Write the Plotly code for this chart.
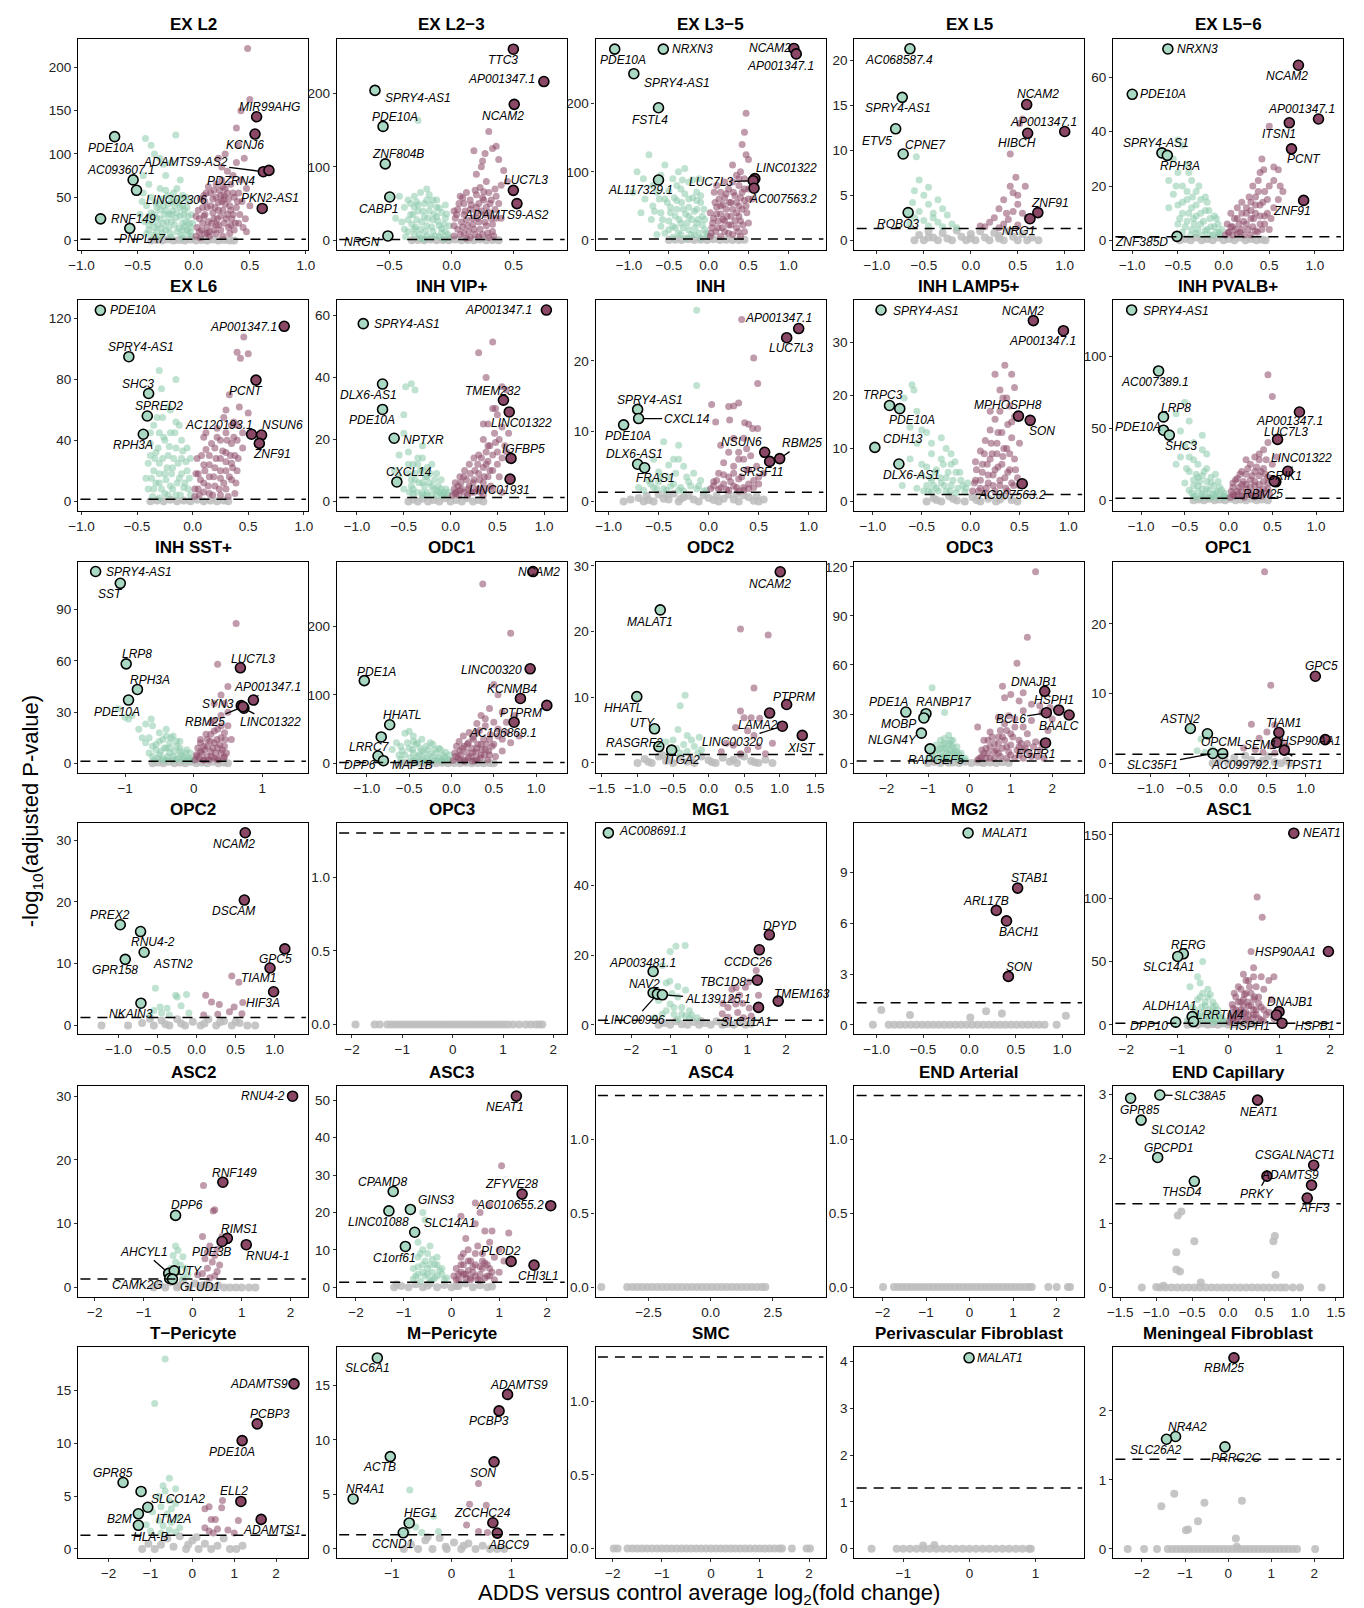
import plotly.graph_objects as go

# ---------------------------------------------------------------- data ----
# each cloud list holds (log2FC, -log10 padj) pairs
EXL2_DOWN = [(-0.43,118),(-0.38,110),(-0.16,122),(-0.35,100),(-0.27,88),(-0.3,95),(-0.2,90),(-0.45,75),(-0.25,75),(-0.12,70),(-0.4,65),(-0.5,60),(-0.3,60),(-0.15,60),(-0.18,55),(-0.45,55),(-0.38,50),(-0.28,48),(-0.2,45),(-0.12,48),(-0.42,40),(-0.33,38),(-0.1,40),(-0.08,35),(-0.25,35),(-0.15,32),(-0.48,30),(-0.22,30),(-0.05,28),(-0.4,28),(-0.3,25),(-0.2,22),(-0.1,20),(-0.32,18),(-0.35,15),(-0.03,15),(-0.25,12),(-0.15,10),(-0.05,8),(-0.42,8),(-0.3,5),(-0.2,4),(-0.1,3),(-0.02,5),(-0.37,22),(-0.27,40),(-0.17,40),(-0.07,22),(-0.12,28),(-0.35,30),(-0.22,15),(-0.28,8),(-0.4,18),(-0.05,45),(-0.1,12),
             (-0.4,12),(-0.36,6),(-0.33,26),(-0.31,42),(-0.29,14),(-0.26,30),(-0.24,22),(-0.23,52),(-0.21,8),(-0.19,34),(-0.17,18),(-0.16,26),(-0.14,44),(-0.13,14),(-0.11,6),(-0.09,30),(-0.08,16),(-0.06,38),(-0.04,20),(-0.03,10),(-0.02,30),(-0.07,50),(-0.25,58),(-0.34,44),(-0.44,22),(-0.46,45),(-0.38,32),(-0.3,35),(-0.2,30),(-0.12,38),(-0.01,20),(-0.27,20),(-0.33,10),(-0.23,42),(-0.18,48),(-0.1,52),(-0.06,12)]
EXL2_UP = [(0.02,5),(0.05,10),(0.08,20),(0.1,30),(0.12,15),(0.15,40),(0.18,25),(0.2,50),(0.22,35),(0.25,45),(0.27,20),(0.3,55),(0.28,60),(0.32,40),(0.35,30),(0.33,65),(0.25,70),(0.3,80),(0.35,75),(0.38,90),(0.22,95),(0.28,100),(0.4,110),(0.42,150),(0.5,163),(0.48,222),(0.45,95),(0.47,60),(0.5,40),(0.47,10),(0.4,20),(0.43,45),(0.06,3),(0.12,8),(0.18,12),(0.15,55),(0.2,65),(0.1,45),(0.38,130),(0.25,85),(0.36,50),(0.42,70),(0.05,25),(0.08,38),(0.13,22),(0.17,32),(0.22,18),(0.24,28),(0.28,42),(0.3,30),(0.33,18),(0.36,12),(0.2,8),(0.26,5),(0.32,8),(0.14,5),(0.38,38),(0.4,55),(0.27,52),
           (0.03,15),(0.04,35),(0.06,48),(0.07,12),(0.09,28),(0.11,55),(0.12,38),(0.14,10),(0.16,20),(0.17,48),(0.19,38),(0.21,25),(0.23,58),(0.24,12),(0.26,35),(0.27,48),(0.29,25),(0.31,15),(0.31,48),(0.34,25),(0.35,55),(0.37,20),(0.39,45),(0.41,30),(0.44,15),(0.46,25),(0.02,28),(0.09,52),(0.13,62),(0.18,58),(0.22,44),(0.26,62),(0.33,35),(0.2,18),(0.1,8),(0.24,52)]
EXL2_NS = [(-0.38,0),(-0.33,0.5),(-0.28,0),(-0.23,1),(-0.18,0),(-0.13,0.5),(-0.08,0),(-0.03,1),(0.02,0),(0.07,0.5),(0.12,0),(0.17,1),(0.22,0),(0.27,0.5),(0.32,0),(0.36,0)]
EXL2_GENES = [("PDE10A",-0.705,120),("AC093607.1",-0.54,70),("LINC02306",-0.51,58),("RNF149",-0.83,25),("PNPLA7",-0.57,14),("MIR99AHG",0.56,143),("KCNJ6",0.546,123),("ADAMTS9-AS2",0.62,79.5),("PDZRN4",0.67,81),("PKN2-AS1",0.61,37)]

EXL23_DOWN = [(-0.27,163),(-0.2,70),(-0.3,60),(-0.25,65),(-0.35,55),(-0.15,55),(-0.22,50),(-0.38,45),(-0.3,45),(-0.12,45),(-0.27,40),(-0.18,40),(-0.08,38),(-0.33,35),(-0.22,32),(-0.05,30),(-0.28,28),(-0.15,28),(-0.4,25),(-0.32,22),(-0.2,20),(-0.1,20),(-0.25,15),(-0.35,12),(-0.15,12),(-0.05,12),(-0.3,8),(-0.2,6),(-0.1,5),(-0.02,4),(-0.25,3),(-0.42,60),(-0.45,30),(-0.38,15),(-0.12,32),(-0.05,48),(-0.18,62),(-0.28,52),(-0.08,10),(-0.16,4),
              (-0.31,35),(-0.29,18),(-0.27,48),(-0.26,8),(-0.24,25),(-0.23,40),(-0.21,12),(-0.19,30),(-0.17,48),(-0.16,18),(-0.14,36),(-0.13,6),(-0.11,26),(-0.1,44),(-0.08,16),(-0.06,22),(-0.04,36),(-0.03,8),(-0.02,20),(-0.35,28),(-0.33,50),(-0.37,5),(-0.2,55),(-0.12,55),(-0.06,2),(-0.22,2),(-0.3,15)]
EXL23_UP = [(0.3,148),(0.36,128),(0.33,125),(0.18,122),(0.27,118),(0.38,110),(0.24,100),(0.45,80),(0.28,80),(0.4,75),(0.35,70),(0.23,72),(0.3,65),(0.2,62),(0.25,58),(0.15,55),(0.32,55),(0.1,50),(0.22,50),(0.28,45),(0.05,42),(0.15,42),(0.35,42),(0.2,38),(0.1,35),(0.27,35),(0.03,30),(0.17,30),(0.32,30),(0.08,25),(0.22,25),(0.13,20),(0.28,20),(0.05,15),(0.18,15),(0.33,12),(0.1,10),(0.25,8),(0.02,6),(0.15,4),(0.3,4),(0.38,50),(0.42,95),(0.2,90),(0.12,65),(0.07,60),(0.4,30),(0.25,108),(0.36,60),
            (0.02,20),(0.04,35),(0.06,50),(0.07,8),(0.09,18),(0.11,40),(0.12,28),(0.14,12),(0.16,48),(0.17,22),(0.19,8),(0.2,45),(0.21,30),(0.23,15),(0.24,40),(0.26,55),(0.27,25),(0.29,10),(0.3,38),(0.31,50),(0.33,22),(0.34,6),(0.36,30),(0.02,40),(0.09,58),(0.19,68),(0.26,66),(0.12,3),(0.22,5)]
EXL23_NS = [(-0.32,0),(-0.27,0.5),(-0.22,0),(-0.17,1),(-0.12,0),(-0.07,0.5),(-0.02,0),(0.03,1),(0.08,0),(0.13,0.5),(0.18,0),(0.23,1),(0.28,0),(0.33,0.5),(0.38,0)]
EXL23_GENES = [("TTC3",0.498,260),("AP001347.1",0.744,216),("NCAM2",0.505,185),("LUC7L3",0.498,68),("ADAMTS9-AS2",0.527,50),("SPRY4-AS1",-0.617,204),("PDE10A",-0.552,155),("ZNF804B",-0.534,104),("CABP1",-0.498,59),("NRGN",-0.513,6)]

EXL35_DOWN = [(-0.55,110),(-0.75,125),(-0.9,100),(-0.3,105),(-0.7,80),(-0.82,90),(-0.6,95),(-0.45,90),(-0.2,88),(-0.65,70),(-0.5,72),(-0.35,75),(-0.15,70),(-0.8,60),(-0.55,60),(-0.4,58),(-0.25,60),(-0.1,55),(-0.7,50),(-0.48,48),(-0.32,45),(-0.18,42),(-0.6,40),(-0.42,35),(-0.25,35),(-0.08,35),(-0.72,30),(-0.5,28),(-0.35,25),(-0.15,25),(-0.6,20),(-0.42,18),(-0.25,15),(-0.05,15),(-0.55,10),(-0.35,8),(-0.18,8),(-0.45,4),(-0.28,3),(-0.1,3),(-0.65,8),(-0.02,6),(-0.85,40),(-0.95,70),(-0.38,100),(-0.12,90),
              (-0.48,40),(-0.45,20),(-0.43,62),(-0.4,45),(-0.38,10),(-0.37,30),(-0.34,55),(-0.32,18),(-0.3,68),(-0.29,38),(-0.27,25),(-0.25,48),(-0.22,8),(-0.21,30),(-0.2,62),(-0.17,18),(-0.15,45),(-0.13,30),(-0.12,10),(-0.1,65),(-0.08,22),(-0.06,45),(-0.05,30),(-0.03,10),(-0.52,55),(-0.58,30),(-0.62,60),(-0.5,15),(-0.68,42),(-0.4,80),(-0.25,85),(-0.15,58),(-0.33,88)]
EXL35_UP = [(0.47,186),(0.45,158),(0.47,125),(0.5,118),(0.42,140),(0.4,100),(0.35,95),(0.45,90),(0.3,85),(0.38,80),(0.5,75),(0.25,75),(0.42,70),(0.33,65),(0.2,62),(0.45,58),(0.28,55),(0.38,50),(0.15,50),(0.22,45),(0.35,40),(0.48,40),(0.1,38),(0.28,35),(0.18,30),(0.4,28),(0.05,25),(0.25,22),(0.35,18),(0.12,18),(0.45,12),(0.2,12),(0.03,10),(0.3,8),(0.15,5),(0.4,5),(0.5,25),(0.55,60),(0.08,55),(0.15,70),(0.3,110),
            (0.02,40),(0.04,18),(0.06,32),(0.07,70),(0.09,12),(0.1,48),(0.12,28),(0.13,60),(0.15,38),(0.17,18),(0.18,52),(0.2,28),(0.22,68),(0.23,35),(0.25,10),(0.26,55),(0.28,22),(0.3,45),(0.31,70),(0.33,28),(0.35,55),(0.37,12),(0.38,35),(0.4,62),(0.42,45),(0.43,22),(0.45,75),(0.47,50),(0.5,60),(0.02,5),(0.1,80),(0.2,85),(0.38,90)]
EXL35_NS = [(-0.5,0),(-0.42,0.5),(-0.34,0),(-0.26,1),(-0.18,0),(-0.1,0.5),(-0.02,0),(0.06,1),(0.14,0),(0.22,0.5),(0.3,0),(0.38,0),(0.45,0.5)]
EXL35_GENES = [("PDE10A",-1.18,280),("NRXN3",-0.57,280),("SPRY4-AS1",-0.94,244),("FSTL4",-0.63,194),("AL117329.1",-0.63,88),("NCAM2",1.07,281),("AP001347.1",1.1,273),("LINC01322",0.58,90),("LUC7L3",0.56,87),("AC007563.2",0.57,76)]

EXL5_DOWN = [(-0.58,9.3),(-0.55,6.7),(-0.45,5.9),(-0.6,5.5),(-0.5,5),(-0.35,4.5),(-0.62,4.2),(-0.45,4),(-0.3,3.5),(-0.55,3.2),(-0.4,3),(-0.25,2.8),(-0.6,2.5),(-0.5,2.2),(-0.35,2),(-0.2,1.8),(-0.45,1.6),(-0.3,1.5),(-0.15,1.4),(-0.65,1.8),(-0.4,2.5)]
EXL5_UP = [(0.55,13.5),(0.52,13),(0.42,9.6),(0.48,7),(0.42,6),(0.45,5.3),(0.5,5),(0.35,4.5),(0.5,4),(0.3,3.5),(0.45,3.2),(0.55,3),(0.25,2.5),(0.4,2.3),(0.2,2),(0.35,1.8),(0.5,1.7),(0.15,1.5),(0.3,1.4),(0.6,2.5),(0.58,6),(0.38,3),(0.1,1.6)]
EXL5_NS = [(-0.6,0),(-0.55,0.6),(-0.5,0),(-0.45,1),(-0.4,0.3),(-0.35,0),(-0.3,0.8),(-0.25,0.2),(-0.2,0),(-0.15,1.1),(-0.1,0.4),(-0.05,0),(0,0.7),(0.05,0),(0.1,1),(0.15,0.3),(0.2,0),(0.25,0.8),(0.3,0.2),(0.35,0),(0.4,1),(0.45,0.4),(0.5,0),(0.55,0.7),(0.6,0),(0.65,0.3),(0.72,0),(-0.45,0.3),(0.0,0.2),(0.3,0.5)]
EXL5_GENES = [("AC068587.4",-0.648,21.3),("SPRY4-AS1",-0.73,15.9),("ETV5",-0.8,12.4),("CPNE7",-0.72,9.6),("ROBO3",-0.667,3.08),("NCAM2",0.595,15.1),("AP001347.1",1.0,12.1),("HIBCH",0.605,11.9),("ZNF91",0.714,3.08),("NRG1",0.63,2.4)]

EXL56_DOWN = [(-0.5,37),(-0.55,30),(-0.45,35),(-0.5,25),(-0.4,28),(-0.6,22),(-0.35,22),(-0.45,20),(-0.3,18),(-0.55,17),(-0.4,15),(-0.25,15),(-0.5,13),(-0.35,12),(-0.2,11),(-0.45,10),(-0.3,9),(-0.15,8),(-0.4,7),(-0.25,6),(-0.1,5),(-0.35,4),(-0.2,3.5),(-0.05,3),(-0.45,3),(-0.3,2.5),(-0.15,2),(-0.5,6),(-0.08,8),(-0.18,14),(-0.6,12),(-0.38,25),
              (-0.42,5),(-0.4,18),(-0.38,10),(-0.36,2),(-0.34,16),(-0.32,6),(-0.3,13),(-0.28,4),(-0.27,20),(-0.25,10),(-0.23,2),(-0.22,7),(-0.2,16),(-0.18,4),(-0.16,11),(-0.14,5),(-0.12,2),(-0.1,9),(-0.08,3),(-0.06,6),(-0.04,2),(-0.02,4),(-0.33,8),(-0.45,14),(-0.48,8),(-0.52,20)]
EXL56_UP = [(0.5,42),(0.55,27),(0.6,26),(0.55,22),(0.62,20),(0.45,18),(0.4,25),(0.48,15),(0.35,16),(0.4,13),(0.3,14),(0.25,12),(0.35,10),(0.2,10),(0.45,9),(0.3,8),(0.15,8),(0.25,6),(0.4,6),(0.1,5),(0.2,4),(0.35,3.5),(0.05,3),(0.15,2.5),(0.3,2),(0.5,4),(0.55,12),(0.08,10),(0.42,30),(0.6,15),(0.65,18),(0.32,20),
            (0.02,2),(0.04,6),(0.06,3),(0.08,5),(0.1,2),(0.12,8),(0.13,4),(0.15,12),(0.17,6),(0.18,3),(0.2,14),(0.22,7),(0.23,2),(0.25,10),(0.27,4),(0.28,16),(0.3,11),(0.32,5),(0.33,8),(0.35,13),(0.37,3),(0.38,18),(0.4,9),(0.42,4),(0.43,14),(0.45,6),(0.48,10),(0.5,20),(0.52,8),(0.38,22),(0.44,26)]
EXL56_NS = [(-0.48,0),(-0.42,0.5),(-0.36,0),(-0.3,1),(-0.24,0),(-0.18,0.5),(-0.12,0),(-0.06,1),(0,0),(0.06,0.5),(0.12,0),(0.18,1),(0.24,0),(0.3,0.5),(0.36,0),(0.42,0.3),(0.46,0)]
EXL56_GENES = [("NRXN3",-0.61,70.5),("PDE10A",-1.0,53.8),("SPRY4-AS1",-0.675,32.2),("RPH3A",-0.616,31.3),("ZNF385D",-0.51,1.45),("NCAM2",0.82,64.5),("AP001347.1",1.04,44.7),("ITSN1",0.72,43.3),("PCNT",0.744,33.7),("ZNF91",0.877,14.7)]

EXL6_DOWN = [(-0.3,86),(-0.15,80),(-0.28,74),(-0.2,60),(-0.35,50),(-0.3,45),(-0.38,38),(-0.25,40),(-0.15,35),(-0.33,32),(-0.22,30),(-0.1,28),(-0.3,25),(-0.18,22),(-0.05,20),(-0.35,20),(-0.25,18),(-0.12,15),(-0.3,12),(-0.2,10),(-0.08,9),(-0.35,8),(-0.25,5),(-0.15,4),(-0.02,4),(-0.3,2),(-0.4,25),(-0.42,15),(-0.2,45),(-0.1,40),(-0.27,55),(-0.15,52),(-0.05,35),(-0.38,30),
             (-0.37,15),(-0.36,3),(-0.34,28),(-0.33,12),(-0.31,35),(-0.3,18),(-0.28,8),(-0.27,28),(-0.26,42),(-0.24,14),(-0.23,22),(-0.22,4),(-0.21,36),(-0.19,18),(-0.18,8),(-0.17,28),(-0.16,45),(-0.14,12),(-0.13,25),(-0.11,4),(-0.1,18),(-0.09,33),(-0.07,12),(-0.06,26),(-0.04,8),(-0.03,15),(-0.02,28),(-0.4,8),(-0.32,55),(-0.22,62),(-0.12,50),(-0.38,45)]
EXL6_UP = [(0.46,108),(0.4,98),(0.5,97),(0.43,94),(0.33,70),(0.5,58),(0.37,52),(0.4,50),(0.1,42),(0.45,35),(0.38,30),(0.3,45),(0.25,40),(0.35,38),(0.2,35),(0.3,32),(0.15,30),(0.25,28),(0.35,25),(0.1,24),(0.2,22),(0.3,20),(0.05,18),(0.15,16),(0.25,15),(0.35,14),(0.1,12),(0.2,10),(0.3,8),(0.05,8),(0.15,5),(0.25,4),(0.02,3),(0.38,5),(0.4,20),(0.45,45),(0.42,62),(0.28,55),
           (0.02,8),(0.03,18),(0.04,28),(0.06,4),(0.07,14),(0.08,30),(0.1,6),(0.11,20),(0.12,34),(0.14,10),(0.15,24),(0.17,38),(0.18,4),(0.19,16),(0.21,28),(0.22,42),(0.24,8),(0.25,20),(0.27,33),(0.28,12),(0.3,26),(0.31,40),(0.32,3),(0.33,16),(0.34,30),(0.36,22),(0.37,42),(0.39,12),(0.41,28),(0.35,50),(0.22,48),(0.12,45),(0.3,60),(0.4,40)]
EXL6_NS = [(-0.38,0),(-0.32,0.5),(-0.26,0),(-0.2,1),(-0.14,0),(-0.08,0.5),(-0.02,0),(0.04,1),(0.1,0),(0.16,0.5),(0.22,0),(0.28,0.5),(0.32,0)]
EXL6_GENES = [("PDE10A",-0.83,125.5),("SPRY4-AS1",-0.574,95),("SHC3",-0.396,70.8),("SPRED2",-0.408,56),("RPH3A",-0.444,44),("AP001347.1",0.824,115),("PCNT",0.57,79.6),("AC120193.1",0.53,44),("NSUN6",0.62,43.5),("ZNF91",0.6,38)]

VIP_DOWN = [(-0.42,38),(-0.38,36),(-0.5,28),(-0.45,16),(-0.3,18),(-0.35,14),(-0.4,12),(-0.2,12),(-0.3,10),(-0.45,9),(-0.15,9),(-0.25,8),(-0.38,7),(-0.1,7),(-0.3,6),(-0.2,5),(-0.42,5),(-0.05,4),(-0.15,3.5),(-0.3,3),(-0.4,2.5),(-0.25,2),(-0.1,2),(-0.5,4),(-0.55,8),
            (-0.44,3),(-0.42,7),(-0.4,4),(-0.38,9),(-0.36,3),(-0.34,6),(-0.32,10),(-0.3,2),(-0.28,5),(-0.27,8),(-0.25,3),(-0.23,6),(-0.22,9),(-0.2,2),(-0.18,4),(-0.17,7),(-0.15,2),(-0.13,5),(-0.12,3),(-0.1,4),(-0.08,2),(-0.07,3),(-0.04,2),(-0.02,3),(-0.35,12),(-0.25,11),(-0.45,12),(-0.3,14),(-0.6,10),(-0.55,15),(-0.5,22),(-0.48,37)]
VIP_UP = [(0.45,51.5),(0.3,48),(0.38,40),(0.55,37),(0.6,36),(0.45,30),(0.5,28),(0.4,25),(0.55,24),(0.35,20),(0.48,19),(0.42,18),(0.6,16),(0.3,15),(0.5,12),(0.55,3),(0.25,14),(0.4,13),(0.2,12),(0.35,11),(0.45,10),(0.15,10),(0.3,9),(0.4,8),(0.1,8),(0.25,7),(0.35,6),(0.05,6),(0.2,5),(0.3,4),(0.1,3.5),(0.25,3),(0.05,2.5),(0.18,2),(0.35,2),(0.45,4),(0.52,8),(0.38,16),
          (0.02,2),(0.04,4),(0.06,3),(0.08,5),(0.09,2),(0.11,6),(0.12,4),(0.14,8),(0.15,3),(0.17,7),(0.19,4),(0.21,9),(0.22,3),(0.24,6),(0.26,10),(0.27,4),(0.29,12),(0.31,7),(0.32,3),(0.33,14),(0.36,8),(0.37,4),(0.38,12),(0.4,18),(0.42,10),(0.43,5),(0.45,15),(0.47,22),(0.5,16),(0.52,20),(0.55,14),(0.58,18),(0.62,22),(0.35,25),(0.48,30)]
VIP_NS = [(-0.45,0),(-0.4,0.6),(-0.35,0),(-0.3,0.9),(-0.24,0),(-0.18,0.5),(-0.12,0),(-0.06,1),(0,0),(0.06,0.5),(0.12,0),(0.18,1),(0.24,0),(0.3,0.5),(0.35,0)]
VIP_GENES = [("AP001347.1",1.024,61.8),("SPRY4-AS1",-0.933,57.4),("DLX6-AS1",-0.727,37.9),("PDE10A",-0.727,29.7),("NPTXR",-0.603,20.4),("CXCL14",-0.574,6.3),("TMEM232",0.565,32.7),("LINC01322",0.627,28.9),("IGFBP5",0.646,13.9),("LINC01931",0.636,7.2)]

INH_DOWN = [(-0.12,27.2),(-0.12,16.5),(-0.45,8.5),(-0.3,6),(-0.5,4.2),(-0.25,5),(-0.15,4),(-0.6,3),(-0.4,3.5),(-0.35,2.5),(-0.2,2.8),(-0.55,2),(-0.1,2.2),(-0.45,1.8),(-0.3,1.6),(-0.05,1.5),(-0.25,1.5),(-0.5,2.8),(-0.4,5.2),(-0.65,1.6),
            (-0.02,1.6),(-0.08,3),(-0.12,1.8),(-0.18,2.2),(-0.22,3.5),(-0.28,2),(-0.33,4),(-0.38,2.2),(-0.42,1.6),(-0.48,3.5),(-0.52,1.8),(-0.58,2.5),(-0.7,2.0),(-0.3,8),(-0.35,6),(-0.55,6)]
INH_UP = [(0.33,25.9),(0.45,20.4),(0.49,16.8),(0.03,13.8),(0.25,13.6),(0.21,11.6),(0.07,11.3),(0.36,11.2),(0.44,10.4),(0.49,10.4),(0.3,7),(0.35,6),(0.15,5.5),(0.25,5),(0.4,4.5),(0.1,4),(0.2,3.5),(0.3,3.2),(0.45,3),(0.05,2.8),(0.15,2.5),(0.25,2.2),(0.35,2),(0.4,1.8),(0.1,1.7),(0.2,1.6),(0.3,1.5),(0.5,2.5),(0.55,4),(0.38,7.5),
          (0.02,1.8),(0.05,2.2),(0.08,3),(0.12,2.0),(0.15,3.8),(0.18,1.7),(0.22,2.8),(0.25,4),(0.28,2.0),(0.3,6),(0.33,3.5),(0.35,1.6),(0.38,4.5),(0.4,2.5),(0.42,6.5),(0.45,2),(0.48,5),(0.5,3.5),(0.12,8),(0.2,7),(0.25,9),(0.35,9),(0.4,11),(0.2,13.5),(0.3,14)]
INH_NS = [(-0.85,0),(-0.78,0.3),(-0.7,0.5),(-0.65,0),(-0.6,0.2),(-0.55,0),(-0.5,1),(-0.45,0.4),(-0.4,0.3),(-0.35,1.1),(-0.3,0),(-0.25,0.6),(-0.2,0.8),(-0.15,0.3),(-0.1,0),(-0.05,0.9),(0,0.5),(0.05,0.2),(0.1,0),(0.15,0.4),(0.2,1),(0.25,0.3),(0.3,0),(0.35,0.9),(0.4,0.6),(0.45,0.1),(0.5,0),(0.55,0.3),(-0.62,0.8),(-0.42,1.0),(-0.28,0.4),(0.08,0.8),(0.28,1.1),(0.48,0.7)]
INH_GENES = [("AP001347.1",0.9,24.6),("LUC7L3",0.78,23.3),("NSUN6",0.56,7.0),("RBM25",0.71,6.1),("SRSF11",0.61,5.7),("SPRY4-AS1",-0.71,13.1),("CXCL14",-0.7,11.8),("PDE10A",-0.85,10.9),("DLX6-AS1",-0.71,5.3),("FRAS1",-0.64,4.8)]

LAMP5_DOWN = [(-0.6,22),(-0.58,21),(-0.68,19.5),(-0.55,17),(-0.62,14),(-0.5,13.5),(-0.45,13),(-0.55,11),(-0.25,10),(-0.4,9),(-0.3,8),(-0.62,8),(-0.2,7),(-0.45,6.5),(-0.35,6),(-0.15,5.5),(-0.5,5),(-0.25,4.5),(-0.4,4),(-0.1,4),(-0.3,3.5),(-0.45,3),(-0.2,3),(-0.35,2.5),(-0.05,2.5),(-0.25,2),(-0.4,1.8),(-0.15,1.6),(-0.55,2.5),(-0.7,3),
              (-0.43,2),(-0.41,4.5),(-0.38,3),(-0.36,5.5),(-0.33,2),(-0.31,4.5),(-0.28,7),(-0.27,3),(-0.23,5.5),(-0.21,2),(-0.18,4),(-0.16,7.5),(-0.13,2.5),(-0.11,5.5),(-0.08,3),(-0.06,1.8),(-0.03,3.5),(-0.5,7),(-0.4,11),(-0.3,12),(-0.2,9),(-0.48,2)]
LAMP5_UP = [(0.35,25.7),(0.25,24),(0.45,21.5),(0.37,19.5),(0.33,19.5),(0.4,18),(0.3,17),(0.45,16),(0.25,15.5),(0.38,14.5),(0.2,13.5),(0.32,13),(0.42,12),(0.15,11.5),(0.27,11),(0.37,10),(0.1,9.5),(0.22,9),(0.33,8.5),(0.45,8),(0.05,7.5),(0.17,7),(0.28,6.5),(0.4,6),(0.12,5.5),(0.23,5),(0.35,4.5),(0.05,4),(0.18,3.5),(0.3,3),(0.42,3.5),(0.1,2.5),(0.25,2),(0.38,2),(0.15,1.6),(0.48,4.5),(0.5,11),
            (0.02,2),(0.04,3.5),(0.06,6),(0.08,2),(0.1,4),(0.12,7),(0.14,9),(0.16,2.5),(0.18,5),(0.2,8),(0.21,11),(0.23,3),(0.25,6),(0.27,9),(0.28,13),(0.3,4),(0.32,7),(0.34,10),(0.36,2.5),(0.38,5.5),(0.4,9),(0.42,15),(0.44,3),(0.46,6),(0.5,3),(0.3,21),(0.42,24),(0.2,17)]
LAMP5_NS = [(-0.45,0),(-0.38,0.6),(-0.3,0),(-0.22,1),(-0.14,0.2),(-0.06,0),(0.02,0.8),(0.1,0),(0.18,0.5),(0.26,0),(0.34,1),(0.42,0.3),(0.48,0),(-0.35,0.3),(0.3,0.4),(-0.18,0.5),(0.06,0.3)]
LAMP5_GENES = [("SPRY4-AS1",-0.917,36.1),("NCAM2",0.642,34.1),("AP001347.1",0.95,32.2),("TRPC3",-0.83,18.1),("PDE10A",-0.725,17.5),("CDH13",-0.98,10.2),("DLX6-AS1",-0.734,7.07),("MPHOSPH8",0.49,16.1),("SON",0.61,15.3),("AC007563.2",0.528,3.35)]

PVALB_DOWN = [(-0.5,68),(-0.6,60),(-0.45,55),(-0.3,45),(-0.5,38),(-0.55,30),(-0.4,28),(-0.35,25),(-0.25,22),(-0.45,20),(-0.15,18),(-0.3,17),(-0.4,14),(-0.2,12),(-0.35,10),(-0.1,9),(-0.25,8),(-0.45,7),(-0.15,5),(-0.3,4),(-0.05,3),(-0.4,3),(-0.2,2),(-0.35,16),(-0.5,12),(-0.6,25),(-0.25,32),
              (-0.42,5),(-0.4,10),(-0.38,2),(-0.37,18),(-0.35,6),(-0.33,13),(-0.31,2),(-0.3,8),(-0.28,20),(-0.27,4),(-0.25,13),(-0.23,2),(-0.22,7),(-0.2,16),(-0.18,4),(-0.17,10),(-0.15,2),(-0.13,6),(-0.12,13),(-0.1,3),(-0.08,7),(-0.06,2),(-0.05,5),(-0.03,2),(-0.45,30),(-0.4,40),(-0.3,35),(-0.55,48),(-0.48,22)]
PVALB_UP = [(0.45,87),(0.5,72),(0.4,35),(0.3,30),(0.35,28),(0.25,25),(0.4,22),(0.3,20),(0.15,20),(0.2,18),(0.35,17),(0.45,16),(0.1,15),(0.25,14),(0.4,13),(0.05,12),(0.15,11),(0.3,10),(0.2,8),(0.35,7),(0.1,6),(0.25,5),(0.4,5),(0.05,4),(0.15,3),(0.3,2.5),(0.45,8),(0.5,25),(0.2,28),
            (0.02,2),(0.03,6),(0.05,9),(0.07,3),(0.08,14),(0.1,4),(0.12,9),(0.13,18),(0.15,6),(0.17,13),(0.18,2),(0.2,11),(0.22,22),(0.23,4),(0.25,9),(0.27,17),(0.28,3),(0.3,13),(0.32,23),(0.33,5),(0.35,11),(0.37,20),(0.38,3),(0.4,8),(0.42,18),(0.43,28),(0.45,12),(0.47,4),(0.5,15),(0.35,32),(0.45,40),(0.55,30)]
PVALB_NS = [(-0.4,0),(-0.34,0.5),(-0.28,0),(-0.22,1),(-0.16,0),(-0.1,0.5),(-0.04,0),(0.02,1),(0.08,0),(0.14,0.5),(0.2,0),(0.26,1),(0.32,0),(0.38,0.5),(0.45,0)]
PVALB_GENES = [("SPRY4-AS1",-1.108,132),("AC007389.1",-0.8,89.7),("LRP8",-0.744,57.8),("PDE10A",-0.744,48.6),("SHC3",-0.677,45.2),("AP001347.1",0.81,61.2),("LUC7L3",0.56,42.2),("LINC01322",0.677,20.1),("GRIK1",0.54,12.8),("RBM25",0.523,13.2)]

SST_DOWN = [(-1.1,32),(-1.0,27),(-0.95,26),(-0.7,23),(-0.6,22),(-0.75,15),(-0.7,12),(-0.6,10),(-0.5,18),(-0.45,14),(-0.4,20),(-0.35,12),(-0.55,8),(-0.3,16),(-0.4,9),(-0.25,10),(-0.5,5),(-0.35,6),(-0.2,7),(-0.45,3),(-0.3,4),(-0.15,4),(-0.4,2),(-0.25,2.5),(-0.1,2),(-0.6,4),(-0.2,13),(-0.1,8),(-0.05,3),(-0.65,6),
            (-0.58,2),(-0.55,11),(-0.52,3),(-0.5,13),(-0.48,7),(-0.45,1.8),(-0.43,9),(-0.4,16),(-0.38,4),(-0.35,9),(-0.33,15),(-0.3,2),(-0.28,7),(-0.25,13),(-0.22,3),(-0.2,9),(-0.18,5),(-0.15,2),(-0.12,6),(-0.08,3),(-0.05,6),(-0.02,2),(-0.65,15),(-0.8,20),(-0.9,28),(-0.62,26)]
SST_UP = [(0.62,82),(0.35,58),(0.5,45),(0.45,35),(0.4,28),(0.5,22),(0.35,20),(0.45,18),(0.3,25),(0.25,17),(0.4,15),(0.2,14),(0.3,12),(0.15,10),(0.35,9),(0.45,10),(0.1,7),(0.25,7),(0.4,6),(0.05,4),(0.2,4),(0.3,3),(0.15,2),(0.35,2.5),(0.45,4),(0.55,14),(0.1,12),(0.25,24),
          (0.02,2),(0.04,5),(0.06,9),(0.08,3),(0.1,14),(0.12,6),(0.14,2),(0.16,8),(0.18,17),(0.2,10),(0.22,2),(0.24,13),(0.26,4),(0.28,9),(0.3,19),(0.32,6),(0.34,14),(0.36,2),(0.38,11),(0.4,22),(0.42,8),(0.44,3),(0.46,14),(0.48,6),(0.5,30),(0.4,40),(0.3,35)]
SST_NS = [(-0.6,0),(-0.52,0.5),(-0.44,0),(-0.36,1),(-0.28,0),(-0.2,0.5),(-0.12,0),(-0.04,1),(0.04,0),(0.12,0.5),(0.2,0),(0.28,1),(0.36,0),(0.44,0.5),(0.5,0)]
SST_GENES = [("SPRY4-AS1",-1.43,112.4),("SST",-1.07,105.5),("LRP8",-0.984,58.3),("RPH3A",-0.82,43.3),("PDE10A",-0.95,37.1),("LUC7L3",0.682,56),("AP001347.1",0.872,37.1),("SYN3",0.695,33.8),("LINC01322",0.734,32.3),("RBM25",0.72,33.2)]

ODC1_DOWN = [(-0.5,47),(-0.55,44),(-0.45,40),(-0.65,30),(-0.6,25),(-0.4,30),(-0.3,25),(-0.7,20),(-0.5,22),(-0.35,18),(-0.2,20),(-0.45,15),(-0.25,13),(-0.55,12),(-0.1,12),(-0.4,10),(-0.15,8),(-0.3,7),(-0.05,6),(-0.45,5),(-0.2,4),(-0.35,3),(-0.1,3),(-0.6,6),(-0.25,30),(-0.15,22),
             (-0.48,8),(-0.46,20),(-0.43,3),(-0.42,28),(-0.38,12),(-0.37,22),(-0.33,6),(-0.32,15),(-0.28,20),(-0.27,3),(-0.23,10),(-0.22,28),(-0.18,15),(-0.17,5),(-0.13,20),(-0.12,4),(-0.08,9),(-0.07,16),(-0.03,4),(-0.02,12),(-0.52,30),(-0.58,18),(-0.62,12),(-0.35,35),(-0.45,32)]
ODC1_UP = [(0.37,262),(0.7,190),(0.5,115),(0.55,100),(0.45,80),(0.6,75),(0.75,70),(0.35,70),(0.5,60),(0.4,55),(0.65,45),(0.55,40),(0.7,30),(0.3,45),(0.25,38),(0.45,35),(0.2,30),(0.35,28),(0.15,25),(0.3,22),(0.4,20),(0.1,18),(0.25,15),(0.35,12),(0.05,10),(0.2,8),(0.3,6),(0.1,5),(0.15,3),(0.25,3),(0.45,12),(0.6,18),(0.8,40),(0.5,28),
           (0.02,4),(0.04,15),(0.06,25),(0.08,8),(0.09,32),(0.11,12),(0.13,22),(0.14,40),(0.16,5),(0.18,16),(0.19,28),(0.21,45),(0.23,10),(0.24,22),(0.26,35),(0.28,4),(0.29,16),(0.31,28),(0.33,48),(0.34,8),(0.36,20),(0.38,35),(0.39,12),(0.41,28),(0.43,5),(0.44,18),(0.46,42),(0.48,25),(0.52,10),(0.55,50),(0.6,35),(0.65,60),(0.4,65),(0.3,58)]
ODC1_NS = [(-0.6,0),(-0.53,0.5),(-0.46,0),(-0.39,1),(-0.32,0),(-0.25,0.5),(-0.18,0),(-0.11,1),(-0.04,0),(0.03,0.5),(0.1,0),(0.17,1),(0.24,0),(0.31,0.5),(0.38,0),(0.45,0.3),(0.5,0)]
ODC1_GENES = [("NCAM2",0.963,280),("LINC00320",0.93,138),("KCNMB4",0.815,94.7),("PTPRM",1.127,84.6),("AC106869.1",0.74,60),("PDE1A",-1.03,120.7),("HHATL",-0.73,56.3),("LRRC7",-0.83,38.5),("DPP6",-0.868,10.6),("MAP1B",-0.804,3.8)]

ODC2_DOWN = [(-0.4,8.7),(-0.33,10.3),(-0.43,5.1),(-0.3,4.2),(-0.13,3.9),(-0.24,3.5),(-0.5,3.5),(-0.6,3.2),(-0.35,2.8),(-0.2,2.5),(-0.45,2.2),(-0.1,2),(-0.3,1.8),(-0.55,1.6),(-0.15,1.5),(-0.4,1.5)]
ODC2_UP = [(0.45,20.4),(0.84,19.5),(0.64,11.4),(0.45,7.9),(0.5,6.9),(0.6,6.9),(0.72,6.8),(0.38,5.4),(0.55,4.9),(0.64,4.2),(0.18,1.7),(0.35,2.7),(0.8,1.4),(0.45,1.4),(0.7,2.5),(0.25,3),(0.55,2),(0.9,3)]
ODC2_NS = [(-1.0,0),(-0.9,0.6),(-0.8,0),(-0.7,1),(-0.6,0.3),(-0.5,0),(-0.4,0.8),(-0.3,0.2),(-0.2,0),(-0.1,1),(0,0.4),(0.1,0),(0.2,0.8),(0.3,0.2),(0.4,0),(0.5,1),(0.6,0.3),(0.7,0),(0.8,0.5),(0.9,0),(-0.65,1.2),(0.45,1.2),(-0.85,0.2),(-0.55,0.5),(-0.25,0.6),(0.05,0.1),(0.35,0.5),(0.65,0.1)]
ODC2_GENES = [("NCAM2",1.01,29.1),("MALAT1",-0.68,23.3),("HHATL",-1.01,10.1),("UTY",-0.76,5.2),("RASGRF2",-0.7,2.5),("ITGA2",-0.52,1.95),("PTPRM",1.1,8.9),("LAMA2",0.86,7.6),("LINC00320",1.04,5.6),("XIST",1.32,4.2)]

ODC3_DOWN = [(-0.9,46),(-0.6,31),(-0.5,17),(-0.6,15),(-0.7,14),(-0.4,14),(-0.5,12),(-0.8,11),(-0.3,10),(-0.6,9),(-0.45,8),(-0.2,6),(-0.7,6),(-0.9,5),(-0.35,4),(-0.55,3.5),(-0.1,3),(-0.8,3),(-0.5,2),(-0.25,2),(-0.65,11),(-0.4,6),(-0.55,6),(-0.3,7),(-0.75,8),(-0.45,11),(-1.0,3),
             (-0.75,3),(-0.7,9),(-0.65,4),(-0.6,12),(-0.55,8),(-0.5,5),(-0.45,14),(-0.4,10),(-0.35,7),(-0.3,3),(-0.25,5),(-0.2,3),(-0.15,2),(-0.85,7),(-0.6,3)]
ODC3_UP = [(1.6,117),(1.4,77),(1.15,61),(0.8,47),(1.0,42),(1.3,43),(0.85,40),(1.2,38),(1.5,36),(1.7,35),(1.95,34),(1.3,32),(1.75,31),(0.95,29),(0.7,28),(2.0,27),(0.2,22),(1.5,26),(0.85,24),(1.1,22),(1.9,20),(0.5,19),(1.4,18),(0.8,16),(1.2,14),(0.6,12),(1.6,13),(0.9,10),(0.4,9),(1.3,8),(0.7,6),(1.0,5),(0.3,4),(1.5,4),(0.5,3),(0.2,2),(1.8,3),(1.0,18),(0.6,7),(1.2,10),(1.4,12),(0.45,14),(1.1,27),(0.75,20),(1.7,8),(0.35,6),
           (0.25,3),(0.3,8),(0.35,14),(0.4,3),(0.45,6),(0.5,10),(0.55,16),(0.6,3),(0.65,8),(0.7,12),(0.75,4),(0.8,9),(0.85,14),(0.9,3),(0.95,7),(1.0,11),(1.05,16),(1.1,3),(1.15,8),(1.2,5),(1.25,12),(1.3,3),(1.35,9),(1.45,6),(1.55,10),(1.65,4),(1.75,12),(0.9,20),(1.3,22),(0.7,16)]
ODC3_NS = [(-1.0,0),(-0.85,0.6),(-0.7,0),(-0.55,1),(-0.4,0.3),(-0.25,0),(-0.1,0.8),(0.05,0),(0.2,0.5),(0.35,0),(0.5,0.3),(0.65,0),(0.8,0.5),(0.95,0),(-0.5,0.2),(0.3,0.4)]
ODC3_GENES = [("PDE1A",-1.535,31.2),("RANBP17",-1.05,30.2),("MOBP",-1.1,27.6),("NLGN4Y",-1.16,18.3),("RAPGEF5",-0.95,8.7),("DNAJB1",1.82,43.9),("HSPH1",2.16,32.4),("BCL6",1.86,30.8),("BAALC",2.41,29.4),("FGFR1",1.84,12.3)]

OPC1_DOWN = [(-0.35,3.5),(-0.2,2.0),(-0.4,1.8),(-0.15,1.5),(-0.3,1.6)]
OPC1_UP = [(0.47,27.5),(0.55,11.2),(0.3,5.6),(0.5,4.5),(0.6,5.5),(0.4,3.6),(0.65,4.0),(0.2,2.2),(0.55,2.5),(0.35,2.0),(0.7,3.1),(0.45,1.6),(0.6,1.5),(0.75,2.5)]
OPC1_NS = [(-0.2,0),(-0.12,0.3),(-0.05,0.9),(0,0),(0.08,0.8),(0.15,0),(0.22,1.1),(0.3,0.5),(0.38,0),(0.45,0.4),(0.52,1),(0.6,0.2),(0.68,0),(0.75,0.4),(0.8,0)]
OPC1_GENES = [("GPC5",1.125,12.5),("ASTN2",-0.487,5.0),("OPCML",-0.267,4.25),("SLC35F1",-0.197,1.42),("AC099792.1",-0.07,1.42),("TIAM1",0.655,4.43),("SEM1",0.626,3.0),("HSP90AA1",1.252,3.4),("TPST1",0.725,1.9)]

OPC2_DOWN = [(-0.53,6),(-0.27,4.9),(-0.25,4.6),(-0.13,5),(-0.47,3),(-0.38,2.8),(-0.2,3.2),(-0.55,2.4),(-0.35,1.7),(-0.6,1.6),(-0.1,2),(-0.45,2)]
OPC2_UP = [(0.45,8),(0.54,7),(0.115,4.9),(0.19,3.8),(0.29,3.4),(0.48,3.0),(0.59,3.7),(0.09,1.7),(0.27,1.8),(0.42,2.2),(0.58,1.9)]
OPC2_NS = [(-1.22,0),(-0.88,0),(-0.7,0.4),(-0.6,1.1),(-0.55,0),(-0.45,0.8),(-0.4,0.2),(-0.35,0),(-0.25,1),(-0.2,0.3),(-0.15,0),(-0.05,0.6),(0.05,0),(0.1,0.3),(0.15,1),(0.25,0),(0.3,0.5),(0.35,0.7),(0.45,0),(0.5,0.6),(0.55,0.4),(0.65,0),(0.75,0)]
OPC2_GENES = [("NCAM2",0.622,31.2),("DSCAM",0.611,20.3),("GPC5",1.13,12.4),("TIAM1",0.94,9.3),("HIF3A",0.986,5.45),("PREX2",-0.98,16.3),("RNU4-2",-0.72,15.2),("ASTN2",-0.674,11.85),("GPR158",-0.916,10.7),("NKAIN3",-0.715,3.6)]

OPC3_DOWN, OPC3_UP, OPC3_GENES = [], [], []
OPC3_NS = [(-1.93,0),(-1.55,0),(-1.45,0),(-1.3,0),(-1.22,0),(-1.14,0),(-1.06,0),(-0.98,0),(-0.9,0),(-0.82,0),(-0.74,0),(-0.66,0),(-0.58,0),(-0.5,0),(-0.42,0),(-0.34,0),(-0.26,0),(-0.18,0),(-0.1,0),(-0.02,0),(0.06,0),(0.14,0),(0.22,0),(0.3,0),(0.38,0),(0.46,0),(0.54,0),(0.62,0),(0.7,0),(0.78,0),(0.86,0),(0.94,0),(1.02,0),(1.1,0),(1.2,0),(1.32,0),(1.45,0),(1.55,0),(1.65,0),(1.72,0),(1.78,0)]

MG1_DOWN = [(-1.0,21),(-0.85,22.5),(-1.2,17),(-1.1,12),(-1.01,12.5),(-0.8,11),(-0.8,8),(-0.6,10),(-1.3,7),(-1.0,6),(-0.7,5),(-0.5,4),(-0.9,3),(-1.2,3),(-0.6,2.5),(-0.3,2),(-0.8,1.6),(-1.4,2),(-0.44,2.8),(-0.61,22.7),(-0.9,5),(-0.7,3),(-0.5,2),(-1.1,4),(-0.95,9)]
MG1_UP = [(1.23,15.6),(0.71,10.6),(0.6,10.2),(0.95,10.8),(1.03,12.3),(0.37,6.1),(0.6,7.4),(0.88,6.2),(1.05,4.8),(0.35,3.2),(0.75,3.5),(1.29,8.5),(0.5,2.2),(0.9,2),(1.1,2.5),(0.8,8.5),(0.5,5),(0.7,6)]
MG1_NS = [(-1.3,0),(-1.15,0.5),(-1.0,0),(-0.85,1),(-0.7,0.2),(-0.55,0),(-0.4,0.8),(-0.25,0),(-0.1,0.5),(0.05,0),(0.2,1),(0.35,0),(0.5,0.3),(0.65,0),(0.8,0.7),(0.95,0),(1.1,0.3),(-0.2,1.1),(0.4,0.2)]
MG1_GENES = [("AC008691.1",-2.6,55),("AP003481.1",-1.44,15.3),("NAV2",-1.44,9.2),("LINC00996",-1.33,8.8),("AL139125.1",-1.2,8.6),("DPYD",1.57,25.8),("CCDC26",1.31,21.5),("TBC1D8",1.26,12.8),("TMEM163",1.8,6.8),("SLC11A1",1.29,5.0)]

MG2_DOWN, MG2_UP = [], []
MG2_NS = [(-1.04,0),(-0.95,0.88),(-0.64,0.58),(0.18,0.8),(0.35,0.66),(1.04,0.53),(0.01,0.43),(0.94,0),(-0.87,0),(-0.81,0),(-0.75,0),(-0.69,0),(-0.63,0),(-0.57,0),(-0.51,0),(-0.45,0),(-0.39,0),(-0.33,0),(-0.27,0),(-0.21,0),(-0.15,0),(-0.09,0),(-0.03,0),(0.03,0),(0.09,0),(0.15,0),(0.21,0),(0.27,0),(0.33,0),(0.39,0),(0.45,0),(0.51,0),(0.57,0),(0.63,0),(0.69,0),(0.75,0),(0.81,0)]
MG2_GENES = [("MALAT1",-0.014,11.34),("STAB1",0.52,8.08),("ARL17B",0.29,6.76),("BACH1",0.4,6.14),("SON",0.42,2.86)]

ASC1_DOWN = [(-0.5,50),(-0.6,38),(-0.55,33),(-0.75,30),(-0.5,25),(-0.4,22),(-0.6,20),(-0.3,18),(-0.45,15),(-0.7,14),(-0.2,12),(-0.5,10),(-0.35,8),(-0.6,7),(-0.15,6),(-0.4,5),(-0.25,4),(-0.8,3.5),(-0.55,3),(-0.1,2.5),(-0.3,2),(-0.45,18),(-0.35,24),(-0.25,15),(-0.65,12),
             (-0.05,3),(-0.12,5),(-0.18,8),(-0.22,3),(-0.28,10),(-0.32,5),(-0.38,12),(-0.42,3),(-0.48,7),(-0.52,14),(-0.58,5),(-0.65,9),(-0.7,4),(-0.4,28),(-0.55,22),(-0.3,14)]
ASC1_UP = [(0.57,101),(0.67,85),(0.45,58),(0.8,35),(0.3,40),(0.5,45),(0.65,38),(0.4,35),(0.2,30),(0.55,30),(0.7,28),(0.35,25),(0.15,22),(0.5,20),(0.85,20),(0.25,18),(0.6,17),(0.4,15),(0.1,13),(0.7,12),(0.3,10),(0.5,8),(0.2,6),(0.9,5),(0.65,4),(0.1,3),(0.45,25),(0.3,20),(0.15,8),(0.4,3),(0.55,12),(0.25,12),(0.35,5),(0.05,6),(0.6,22),(0.75,8),(0.9,38),
           (0.02,2),(0.05,8),(0.08,16),(0.1,5),(0.12,25),(0.15,12),(0.18,3),(0.2,18),(0.22,10),(0.25,28),(0.28,6),(0.3,15),(0.32,24),(0.35,10),(0.38,18),(0.4,8),(0.42,30),(0.45,15),(0.48,5),(0.5,12),(0.52,22),(0.55,8),(0.6,5),(0.65,14),(0.7,3),(0.8,10),(0.35,35),(0.5,38)]
ASC1_NS = [(-0.8,0),(-0.7,0.5),(-0.6,0),(-0.5,1),(-0.4,0),(-0.3,0.5),(-0.2,0),(-0.1,1),(0,0),(0.1,0.5),(0.2,0),(0.3,1),(0.4,0),(0.5,0.5)]
ASC1_GENES = [("NEAT1",1.29,151.3),("HSP90AA1",1.97,57.9),("RERG",-0.88,56.1),("SLC14A1",-0.99,54),("ALDH1A1",-0.706,6.5),("DPP10",-1.03,2.1),("LRRTM4",-0.68,2.6),("DNAJB1",1.0,10.4),("HSPH1",0.95,7.8),("HSPB1",1.06,1.3)]

ASC2_DOWN = [(-0.35,6.5),(-0.3,5.8),(-0.4,5),(-0.2,4.8),(-0.35,4),(-0.25,3.5),(-0.45,3),(-0.15,3),(-0.3,2.4),(-0.1,2),(-0.5,1.8),(-0.2,1.5)]
ASC2_UP = [(0.22,16),(0.45,12.2),(0.42,12),(0.2,8),(0.6,8),(0.35,6.5),(0.5,6),(0.3,5.5),(0.45,5),(0.25,4.5),(0.4,4),(0.55,3.5),(0.3,3),(0.5,2.5),(0.2,2.2),(0.45,1.8),(0.35,1.5),(0.1,2)]
ASC2_NS = [(-0.8,0),(-0.68,0.4),(-0.56,0),(-0.44,0.8),(-0.32,0),(-0.2,1),(-0.08,0),(0.04,0.6),(0.16,0),(0.28,0.5),(0.4,0),(0.52,0.3),(0.64,0),(0.76,0),(0.88,0),(1.0,0),(1.15,0),(1.28,0),(-0.3,0.3),(0.2,0.3)]
ASC2_GENES = [("RNU4-2",2.04,30),("RNF149",0.616,16.5),("RIMS1",0.708,7.7),("PDE3B",0.6,7.2),("RNU4-1",1.094,6.7),("DPP6",-0.35,11.3),("AHCYL1",-0.49,2.2),("UTY",-0.377,2.6),("CAMK2G",-0.47,1.4),("GLUD1",-0.414,1.3)]

ASC3_DOWN = [(-0.6,20),(-0.55,18),(-0.7,12),(-0.6,10),(-0.5,9),(-0.7,8),(-0.4,7.5),(-0.6,6),(-0.3,6),(-0.8,5),(-0.5,5),(-0.4,4),(-0.7,3.5),(-0.2,3.5),(-0.55,3),(-0.35,2.5),(-0.8,2.2),(-0.15,2),(-0.45,1.8),(-0.65,1.6),(-0.25,4.5),(-0.45,11),(-0.3,8),
             (-0.1,2.5),(-0.2,5),(-0.3,3),(-0.35,6),(-0.4,2),(-0.5,3.5),(-0.55,7),(-0.6,4),(-0.65,9),(-0.7,5.5),(-0.75,3),(-0.45,6)]
ASC3_UP = [(1.05,32.5),(0.5,22.5),(0.8,22),(0.6,20),(0.2,19),(0.5,17),(0.85,15),(0.7,15),(1.2,14.5),(0.3,13),(0.8,12),(0.55,11),(1.0,10),(0.25,9),(0.65,9),(0.9,8),(0.4,7),(1.1,7),(0.2,6),(0.6,5.5),(0.8,5),(0.35,4.5),(1.0,4),(0.15,3.5),(0.5,3),(0.75,3),(0.3,2.5),(0.9,2),(0.1,2),(0.6,1.8),(0.45,5.5),(0.25,3.5),(0.7,6.5),(0.4,2),
           (0.05,3),(0.1,5),(0.15,2),(0.2,4),(0.25,6),(0.3,3.5),(0.35,7),(0.4,2.5),(0.45,4),(0.5,6),(0.55,2),(0.6,3.5),(0.65,5),(0.7,2.5),(0.75,6),(0.8,3),(0.85,4),(0.2,8),(0.35,10),(0.5,9),(0.65,7)]
ASC3_NS = [(-1.15,0.7),(-1.2,0),(-1.05,0.3),(-0.9,0),(-0.75,0.8),(-0.6,0),(-0.45,1),(-0.3,0),(-0.15,0.6),(0,0),(0.15,0.3),(0.3,1),(0.45,0),(0.6,0.5),(0.75,0),(0.85,0.2),(-0.5,0.4),(0.1,0.3)]
ASC3_GENES = [("NEAT1",1.36,51.1),("ZFYVE28",1.48,24.9),("AC010655.2",2.08,21.8),("PLOD2",1.25,6.9),("CHI3L1",1.73,5.9),("CPAMD8",-1.22,25.6),("GINS3",-0.86,20.8),("LINC01088",-1.31,20.4),("SLC14A1",-0.77,14.7),("C1orf61",-0.965,10.9)]

ASC4_DOWN, ASC4_UP, ASC4_GENES = [], [], []
ASC4_NS = [(-4.4,0),(-3.36,0),(-3.15,0),(-2.95,0),(-2.75,0),(-2.55,0),(-2.35,0),(-2.15,0),(-1.95,0),(-1.75,0),(-1.55,0),(-1.35,0),(-1.15,0),(-0.95,0),(-0.75,0),(-0.55,0),(-0.35,0),(-0.15,0),(0.05,0),(0.25,0),(0.45,0),(0.65,0),(0.85,0),(1.05,0),(1.25,0),(1.45,0),(1.65,0),(1.85,0),(2.05,0),(2.2,0)]

ENDA_DOWN, ENDA_UP, ENDA_GENES = [], [], []
ENDA_NS = [(-1.99,0),(-1.74,0),(-1.64,0),(-1.54,0),(-1.44,0),(-1.34,0),(-1.24,0),(-1.14,0),(-1.04,0),(-0.94,0),(-0.84,0),(-0.74,0),(-0.64,0),(-0.54,0),(-0.44,0),(-0.34,0),(-0.24,0),(-0.14,0),(-0.04,0),(0.06,0),(0.16,0),(0.26,0),(0.36,0),(0.46,0),(0.56,0),(0.66,0),(0.76,0),(0.86,0),(0.96,0),(1.06,0),(1.16,0),(1.26,0),(1.36,0),(1.43,0),(1.81,0),(2.0,0),(2.26,0),(2.31,0)]

ENDC_DOWN, ENDC_UP = [], []
ENDC_NS = [(-1.2,0),(-1.0,0.01),(-0.9,0.03),(-0.95,0),(-0.87,0),(-0.79,0),(-0.71,0),(-0.63,0),(-0.55,0),(-0.47,0),(-0.39,0),(-0.31,0),(-0.23,0),(-0.15,0),(-0.07,0),(0.01,0),(0.09,0),(0.17,0),(0.25,0),(0.33,0),(0.41,0),(0.49,0),(0.57,0),(0.65,0),(0.73,0),(0.8,0),(0.9,0),(1.0,0),(1.3,0),(-0.7,1.12),(-0.65,1.18),(-0.47,0.72),(-0.72,0.55),(-0.72,0.28),(-0.67,0.25),(-0.38,0.08),(0.63,0.72),(0.65,0.8),(0.66,0.2)]
ENDC_GENES = [("GPR85",-1.356,2.94),("SLC38A5",-0.95,2.99),("SLCO1A2",-1.21,2.6),("GPCPD1",-0.98,2.02),("THSD4",-0.47,1.65),("NEAT1",0.41,2.91),("CSGALNACT1",1.19,1.9),("PRKY",0.54,1.73),("ADAMTS9",1.16,1.59),("AFF3",1.1,1.39)]

TPER_DOWN = [(-0.65,18),(-0.9,13.8),(-0.55,6.7),(-0.7,6.0),(-0.65,5.5),(-0.4,5.7),(-0.8,5),(-0.55,4.6),(-0.4,4.3),(-0.75,4),(-0.5,3.8),(-0.95,3.5),(-0.6,3.3),(-0.35,3),(-0.8,2.7),(-0.5,2.5),(-1.1,2.3),(-0.7,2.2),(-0.3,2),(-0.55,1.8),(-1.0,1.7),(-0.4,1.6),(-0.75,1.5)]
TPER_UP = [(0.4,4.0),(0.72,4.6),(0.7,3.9),(0.3,3.8),(0.45,2.8),(0.55,2.8),(1.1,2.7),(0.3,2.0),(0.6,1.9),(0.85,1.8),(0.4,1.7),(1.0,1.5),(0.5,1.5)]
TPER_NS = [(-1.2,0),(-1.05,0.5),(-0.9,0),(-0.75,0.4),(-0.6,1),(-0.45,0.2),(-0.3,1.2),(-0.15,0),(0,0.8),(0.15,0),(0.3,0.5),(0.45,0),(0.6,0.3),(0.75,1),(0.9,0),(1.05,0),(1.2,0.3),(0.1,1.1),(-0.1,0.4)]
TPER_GENES = [("ADAMTS9",2.43,15.65),("PCBP3",1.55,11.86),("PDE10A",1.19,10.27),("ELL2",1.16,4.5),("ADAMTS1",1.645,2.8),("GPR85",-1.656,6.3),("SLCO1A2",-1.226,5.45),("ITM2A",-1.065,3.95),("B2M",-1.29,3.33),("HLA-B",-1.29,2.24)]

MPER_DOWN = [(-0.7,5.4),(-0.3,3.0),(-0.22,1.6),(-0.6,2.0),(-0.5,1.5),(-0.75,1.6)]
MPER_UP = [(0.45,6.0),(0.3,4.1),(0.58,4.0),(0.25,2.2),(0.45,1.6),(0.6,1.5)]
MPER_NS = [(-0.8,0),(-0.68,0.4),(-0.56,0),(-0.44,0.8),(-0.32,0),(-0.2,1),(-0.08,0),(0.04,0.6),(0.16,0),(0.28,0.5),(0.4,0),(0.52,0.3),(0.64,0),(0.76,0),(0.88,0),(-0.4,1.1),(0.2,0.3),(-0.1,0.2)]
MPER_GENES = [("SLC6A1",-1.243,17.5),("ACTB",-1.026,8.46),("NR4A1",-1.648,4.58),("HEG1",-0.71,2.38),("CCND1",-0.81,1.48),("ADAMTS9",0.936,14.16),("PCBP3",0.794,12.65),("SON",0.71,7.98),("ZCCHC24",0.69,2.4),("ABCC9",0.764,1.45)]

SMC_DOWN, SMC_UP, SMC_GENES = [], [], []
SMC_NS = [(-1.98,0),(-1.9,0),(-1.7,0),(-1.6,0),(-1.5,0),(-1.4,0),(-1.3,0),(-1.2,0),(-1.1,0),(-1.0,0),(-0.9,0),(-0.8,0),(-0.7,0),(-0.6,0),(-0.5,0),(-0.4,0),(-0.3,0),(-0.2,0),(-0.1,0),(0,0),(0.1,0),(0.2,0),(0.3,0),(0.4,0),(0.5,0),(0.6,0),(0.7,0),(0.8,0),(0.9,0),(1.0,0),(1.1,0),(1.2,0),(1.3,0),(1.4,0),(1.45,0),(1.65,0),(1.95,0),(2.02,0)]

PVF_DOWN, PVF_UP = [], []
PVF_NS = [(-1.48,0),(-1.1,0),(-1.0,0),(-0.9,0),(-0.8,0),(-0.7,0),(-0.6,0),(-0.5,0),(-0.4,0),(-0.3,0),(-0.2,0),(-0.1,0),(0,0),(0.1,0),(0.2,0),(0.3,0),(0.4,0),(0.5,0),(0.6,0),(0.7,0),(0.8,0),(0.9,0),(0.93,0),(-0.7,0.07),(-0.53,0.08)]
PVF_GENES = [("MALAT1",-0.005,4.08)]

MNF_DOWN, MNF_UP = [], []
MNF_NS = [(-2.33,0),(-1.95,0),(-1.65,0),(-1.4,0),(-1.3,0),(-1.2,0),(-1.1,0),(-1.0,0),(-0.9,0),(-0.8,0),(-0.7,0),(-0.6,0),(-0.5,0),(-0.4,0),(-0.3,0),(-0.2,0),(-0.1,0),(0,0),(0.1,0),(0.2,0),(0.3,0),(0.4,0),(0.5,0),(0.6,0),(0.7,0),(0.8,0),(0.9,0),(1.0,0),(1.1,0),(1.2,0),(1.3,0),(1.4,0),(1.5,0),(1.6,0),(2.02,0),(-1.25,0.8),(-1.55,0.62),(-0.55,0.67),(-0.7,0.4),(-0.98,0.27),(-0.93,0.28),(0.32,0.7),(0.18,0.15),(0.2,0.03)]
MNF_GENES = [("RBM25",0.135,2.77),("NR4A2",-1.22,1.63),("SLC26A2",-1.43,1.59),("PRRC2C",-0.073,1.48)]

PADJ_CUTOFF = 1.3  # -log10(0.05)

# ------------------------------------------------------ label layout ----
# text centre (x, y in data units) and whether a connector segment is drawn
EXL2_TXT = [(-0.74,107,0),(-0.645,81,0),(-0.155,47,0),(-0.54,25,0),(-0.46,1.5,0),(0.673,154,0),(0.454,110,0),(-0.076,91,1),(0.33,69,0),(0.68,49,0)]
EXL23_TXT = [(0.415,245,0),(0.40,220,0),(0.415,169,0),(0.60,82,0),(0.44,35,0),(-0.267,194,0),(-0.458,168,0),(-0.433,117,0),(-0.585,43,0),(-0.722,-2,0)]
EXL35_TXT = [(-1.08,264,0),(-0.2,280,0),(-0.4,230,0),(-0.74,176,0),(-0.86,73,0),(0.77,281,0),(0.9,255,0),(0.98,105,0),(0.03,85,1),(0.93,60,0)]
EXL5_TXT = [(-0.76,20.1,0),(-0.78,14.7,0),(-1.0,11.1,0),(-0.48,10.6,0),(-0.78,1.83,0),(0.72,16.3,0),(0.77,13.15,0),(0.495,10.8,0),(0.84,4.2,0),(0.51,1.06,0)]
EXL56_TXT = [(-0.28,70.5,0),(-0.66,53.8,0),(-0.74,35.9,0),(-0.48,27.4,0),(-0.9,-0.5,0),(0.7,60.7,0),(0.85,48.2,0),(0.61,39.3,0),(0.88,29.8,0),(0.75,10.8,0)]
EXL6_TXT = [(-0.54,125.5,0),(-0.465,101.5,0),(-0.49,77,0),(-0.3,62.5,0),(-0.533,37,0),(0.457,114.5,0),(0.477,72.3,0),(0.234,50.2,0),(0.81,50.2,0),(0.71,31,0)]
VIP_TXT = [(0.51,61.8,0),(-0.47,57.4,0),(-0.876,34.5,0),(-0.842,26.2,0),(-0.29,20,0),(-0.445,9.4,0),(0.455,35.8,0),(0.756,25.4,0),(0.775,17,0),(0.52,3.7,0)]
INH_TXT = [(0.7,26.1,0),(0.82,21.9,0),(0.33,8.5,0),(0.93,8.3,1),(0.52,4.2,0),(-0.59,14.5,0),(-0.22,11.8,1),(-0.81,9.3,0),(-0.74,6.8,0),(-0.53,3.3,0)]
LAMP5_TXT = [(-0.46,36,0),(0.54,36,0),(0.74,30.2,0),(-0.9,20,0),(-0.6,15.3,0),(-0.69,11.8,0),(-0.61,5.0,0),(0.385,18.1,0),(0.734,13.3,0),(0.42,1.24,0)]
PVALB_TXT = [(-0.6,131.5,0),(-0.836,82.2,0),(-0.605,64,0),(-1.04,51,0),(-0.54,37.7,0),(0.7,55,0),(0.66,47.3,0),(0.83,29.2,1),(0.63,16.7,0),(0.39,4.1,0)]
SST_TXT = [(-0.79,112.4,0),(-1.21,99.3,0),(-0.82,64,0),(-0.636,48.7,0),(-1.115,30.3,0),(0.872,61.4,0),(1.08,44.8,1),(0.36,34.6,0),(1.115,24,1),(0.164,24,1)]
ODC1_TXT = [(1.03,280,0),(0.476,136.5,0),(0.714,109,0),(0.82,74,0),(0.61,44.2,0),(-0.89,134,0),(-0.59,70.2,0),(-0.963,24,0),(-1.085,-2,0),(-0.466,-2,0)]
ODC2_TXT = [(0.87,27.3,0),(-0.83,21.4,0),(-1.2,8.3,0),(-0.93,6.1,0),(-1.04,3.1,0),(-0.37,0.5,0),(1.2,10.1,0),(0.7,5.8,0),(0.34,3.2,1),(1.31,2.3,0)]
ODC3_TXT = [(-1.95,37.2,0),(-0.62,37.2,0),(-1.71,24.2,0),(-1.86,14.3,0),(-0.81,1.8,0),(1.57,49.7,0),(2.05,38.3,0),(1.0,27.2,1),(2.16,22.8,0),(1.59,5.6,0)]
OPC1_TXT = [(1.2,14,0),(-0.62,6.4,0),(-0.07,3.0,0),(-0.97,-0.2,1),(0.22,-0.2,1),(0.713,5.85,0),(0.42,2.6,0),(1.06,3.25,0),(0.97,-0.2,1)]
OPC2_TXT = [(0.478,29.4,0),(0.467,18.5,0),(1.01,10.8,0),(0.795,7.7,0),(0.853,3.7,0),(-1.118,17.9,0),(-0.56,13.5,0),(-0.31,10,0),(-1.05,8.9,0),(-0.847,1.8,0)]
MG1_TXT = [(-1.45,55.4,0),(-1.71,17.8,0),(-1.66,11.6,0),(-1.92,1.5,1),(0.23,7.4,1),(1.84,28.4,0),(1.01,18,0),(0.36,12.4,1),(2.41,8.9,0),(0.96,0.9,0)]
MG2_TXT = [(0.385,11.34,0),(0.65,8.67,0),(0.18,7.34,0),(0.53,5.5,0),(0.53,3.4,0)]
ASC1_TXT = [(1.84,151.3,0),(1.13,57.9,0),(-0.77,63.4,0),(-1.18,45.7,0),(-1.17,15.1,0),(-1.56,-0.8,0),(-0.15,7.8,0),(1.22,17.7,0),(0.42,-0.8,1),(1.7,-0.8,0)]
ASC2_TXT = [(1.44,30,0),(0.846,18,0),(0.965,9.2,0),(0.386,5.6,0),(1.536,4.9,0),(-0.12,12.9,0),(-0.99,5.6,1),(-0.074,2.6,0),(-1.13,0.36,0),(0.156,0,0)]
ASC3_TXT = [(1.12,48.2,0),(1.25,27.5,0),(1.22,21.9,0),(1.03,9.8,0),(1.83,2.9,0),(-1.44,28.2,0),(-0.33,23.2,0),(-1.52,17.5,0),(-0.05,17.1,0),(-1.2,7.9,0)]
ENDC_TXT = [(-1.22,2.75,0),(-0.39,2.97,1),(-0.7,2.45,0),(-0.825,2.17,0),(-0.64,1.48,0),(0.425,2.73,0),(0.925,2.06,0),(0.4,1.45,1),(0.86,1.74,0),(1.2,1.23,0)]
TPER_TXT = [(1.59,15.65,0),(1.86,12.8,0),(0.946,9.2,0),(1.0,5.45,0),(1.914,1.77,0),(-1.9,7.2,0),(-0.344,4.76,0),(-0.45,2.86,0),(-1.74,2.86,0),(-0.99,1.1,0)]
MPER_TXT = [(-1.41,16.6,0),(-1.2,7.5,0),(-1.438,5.5,0),(-0.524,3.3,0),(-0.99,0.45,0),(1.12,15.06,0),(0.62,11.7,0),(0.524,7.0,0),(0.51,3.3,0),(0.96,0.36,0)]
PVF_TXT = [(0.47,4.08,0)]
MNF_TXT = [(-0.104,2.62,0),(-0.94,1.77,0),(-1.67,1.43,0),(0.19,1.32,0)]
EMPTY_TXT = []

X05 = [-1, -0.5, 0, 0.5, 1]
X1 = [-2, -1, 0, 1, 2]
# title, down, up, ns, genes, label layout, x range, x ticks, x fmt, y range, y ticks, y fmt
PANELS = [
    ("EX L2", EXL2_DOWN, EXL2_UP, EXL2_NS, EXL2_GENES, EXL2_TXT, [-1.03,1.02], X05, "f1", [-10.5,233], [0,50,100,150,200], "g"),
    ("EX L2−3", EXL23_DOWN, EXL23_UP, EXL23_NS, EXL23_GENES, EXL23_TXT, [-0.924,0.93], [-0.5,0,0.5], "f1", [-12.5,274], [0,100,200], "g"),
    ("EX L3−5", EXL35_DOWN, EXL35_UP, EXL35_NS, EXL35_GENES, EXL35_TXT, [-1.42,1.47], X05, "f1", [-14,295], [0,100,200], "g"),
    ("EX L5", EXL5_DOWN, EXL5_UP, EXL5_NS, EXL5_GENES, EXL5_TXT, [-1.24,1.21], X05, "f1", [-1.03,22.4], [0,5,10,15,20], "g"),
    ("EX L5−6", EXL56_DOWN, EXL56_UP, EXL56_NS, EXL56_GENES, EXL56_TXT, [-1.21,1.31], X05, "f1", [-3.4,74.2], [0,20,40,60], "g"),
    ("EX L6", EXL6_DOWN, EXL6_UP, EXL6_NS, EXL6_GENES, EXL6_TXT, [-1.03,1.04], X05, "f1", [-6.5,132], [0,40,80,120], "g"),
    ("INH VIP+", VIP_DOWN, VIP_UP, VIP_NS, VIP_GENES, VIP_TXT, [-1.215,1.244], X05, "f1", [-3.1,64.9], [0,20,40,60], "g"),
    ("INH", INH_DOWN, INH_UP, INH_NS, INH_GENES, INH_TXT, [-1.13,1.17], X05, "f1", [-1.36,28.6], [0,10,20], "g"),
    ("INH LAMP5+", LAMP5_DOWN, LAMP5_UP, LAMP5_NS, LAMP5_GENES, LAMP5_TXT, [-1.19,1.165], X05, "f1", [-1.8,37.9], [0,10,20,30], "g"),
    ("INH PVALB+", PVALB_DOWN, PVALB_UP, PVALB_NS, PVALB_GENES, PVALB_TXT, [-1.32,1.31], X05, "f1", [-7.5,138.6], [0,50,100], "g"),
    ("INH SST+", SST_DOWN, SST_UP, SST_NS, SST_GENES, SST_TXT, [-1.685,1.672], [-1,0,1], "g", [-5.4,118], [0,30,60,90], "g"),
    ("ODC1", ODC1_DOWN, ODC1_UP, ODC1_NS, ODC1_GENES, ODC1_TXT, [-1.354,1.365], X05, "f1", [-13.5,294], [0,100,200], "g"),
    ("ODC2", ODC2_DOWN, ODC2_UP, ODC2_NS, ODC2_GENES, ODC2_TXT, [-1.59,1.65], [-1.5,-1,-0.5,0,0.5,1,1.5], "f1", [-1.46,30.6], [0,10,20,30], "g"),
    ("ODC3", ODC3_DOWN, ODC3_UP, ODC3_NS, ODC3_GENES, ODC3_TXT, [-2.78,2.78], X1, "g", [-5.8,123], [0,30,60,90,120], "g"),
    ("OPC1", OPC1_DOWN, OPC1_UP, OPC1_NS, OPC1_GENES, OPC1_TXT, [-1.484,1.484], X05, "f1", [-1.32,28.9], [0,10,20], "g"),
    ("OPC2", OPC2_DOWN, OPC2_UP, OPC2_NS, OPC2_GENES, OPC2_TXT, [-1.52,1.43], X05, "f1", [-1.4,32.7], [0,10,20,30], "g"),
    ("OPC3", OPC3_DOWN, OPC3_UP, OPC3_NS, OPC3_GENES, EMPTY_TXT, [-2.3,2.27], X1, "g", [-0.065,1.365], [0,0.5,1], "f1"),
    ("MG1", MG1_DOWN, MG1_UP, MG1_NS, MG1_GENES, MG1_TXT, [-2.93,3.03], X1, "g", [-2.65,57.7], [0,20,40], "g"),
    ("MG2", MG2_DOWN, MG2_UP, MG2_NS, MG2_GENES, MG2_TXT, [-1.24,1.24], X05, "f1", [-0.55,11.9], [0,3,6,9], "g"),
    ("ASC1", ASC1_DOWN, ASC1_UP, ASC1_NS, ASC1_GENES, ASC1_TXT, [-2.26,2.26], X1, "g", [-7.3,159], [0,50,100,150], "g"),
    ("ASC2", ASC2_DOWN, ASC2_UP, ASC2_NS, ASC2_GENES, ASC2_TXT, [-2.34,2.36], X1, "g", [-1.44,31.6], [0,10,20,30], "g"),
    ("ASC3", ASC3_DOWN, ASC3_UP, ASC3_NS, ASC3_GENES, ASC3_TXT, [-2.4,2.42], X1, "g", [-2.5,53.8], [0,10,20,30,40,50], "g"),
    ("ASC4", ASC4_DOWN, ASC4_UP, ASC4_NS, ASC4_GENES, EMPTY_TXT, [-4.63,4.63], [-2.5,0,2.5], "f1", [-0.065,1.365], [0,0.5,1], "f1"),
    ("END Arterial", ENDA_DOWN, ENDA_UP, ENDA_NS, ENDA_GENES, EMPTY_TXT, [-2.65,2.64], X1, "g", [-0.065,1.365], [0,0.5,1], "f1"),
    ("END Capillary", ENDC_DOWN, ENDC_UP, ENDC_NS, ENDC_GENES, ENDC_TXT, [-1.6,1.6], [-1.5,-1,-0.5,0,0.5,1,1.5], "f1", [-0.14,3.13], [0,1,2,3], "g"),
    ("T−Pericyte", TPER_DOWN, TPER_UP, TPER_NS, TPER_GENES, TPER_TXT, [-2.73,2.77], X1, "g", [-0.87,19.1], [0,5,10,15], "g"),
    ("M−Pericyte", MPER_DOWN, MPER_UP, MPER_NS, MPER_GENES, MPER_TXT, [-1.92,1.93], [-1,0,1], "g", [-0.84,18.46], [0,5,10,15], "g"),
    ("SMC", SMC_DOWN, SMC_UP, SMC_NS, SMC_GENES, EMPTY_TXT, [-2.35,2.34], X1, "g", [-0.065,1.365], [0,0.5,1], "f1"),
    ("Perivascular Fibroblast", PVF_DOWN, PVF_UP, PVF_NS, PVF_GENES, PVF_TXT, [-1.74,1.74], [-1,0,1], "g", [-0.2,4.3], [0,1,2,3,4], "g"),
    ("Meningeal Fibroblast", MNF_DOWN, MNF_UP, MNF_NS, MNF_GENES, MNF_TXT, [-2.67,2.67], X1, "g", [-0.133,2.92], [0,1,2], "g"),
]

# ------------------------------------------------------------ style ----
FONT = "Liberation Sans Narrow, Arial Narrow, Liberation Sans, Arial, sans-serif"
W, H = 1364, 1608
COL_L = [69, 331, 593, 855, 1117]
ROW_T = [36, 298, 560, 822, 1085, 1347]
PW, PH = 233, 211
GREEN_CLOUD = "rgba(140,202,172,0.55)"
MAUVE_CLOUD = "rgba(140,72,104,0.55)"
GREY_CLOUD = "rgba(188,188,188,0.85)"
GREEN_LAB = "#A9D9C2"
MAUVE_LAB = "#8B4866"


def fmt(v, kind):
    s = f"{v:.1f}" if kind == "f1" else f"{v:g}"
    return s.replace("-", "−")


fig = go.Figure()
annotations = []
shapes = []
layout_axes = {}

for i, (title, down, up, ns, genes, txt, xr, xt, xf, yr, yt, yf) in enumerate(PANELS):
    k = i + 1
    sfx = "" if k == 1 else str(k)
    xa, ya = "x" + sfx, "y" + sfx
    r, c = divmod(i, 5)
    left, top = COL_L[c], ROW_T[r]

    for pts, col, sz in ((ns, GREY_CLOUD, 8), (down, GREEN_CLOUD, 7), (up, MAUVE_CLOUD, 7)):
        if pts:
            fig.add_trace(go.Scatter(
                x=[p[0] for p in pts], y=[p[1] for p in pts], xaxis=xa, yaxis=ya,
                mode="markers", hoverinfo="skip",
                marker=dict(size=sz, color=col, line=dict(width=0))))
    if genes:
        fig.add_trace(go.Scatter(
            x=[g[1] for g in genes], y=[g[2] for g in genes], xaxis=xa, yaxis=ya,
            mode="markers", hoverinfo="skip",
            marker=dict(size=10, color=[GREEN_LAB if g[1] < 0 else MAUVE_LAB for g in genes],
                        line=dict(color="black", width=1.6))))
    for (name, gx, gy), (lx, ly, seg) in zip(genes, txt):
        common = dict(xref=xa, yref=ya, text=f"<i>{name}</i>",
                      font=dict(family=FONT, size=12, color="black"))
        if seg:
            annotations.append(dict(x=gx, y=gy, ax=lx, ay=ly, axref=xa, ayref=ya,
                                    showarrow=True, arrowhead=0, arrowwidth=1.3,
                                    arrowcolor="black", standoff=5, **common))
        else:
            annotations.append(dict(x=lx, y=ly, showarrow=False, **common))

    axis_common = dict(showline=True, mirror=True, linecolor="black", linewidth=1.4,
                       ticks="outside", ticklen=3, tickwidth=1, tickcolor="#333",
                       showgrid=False, zeroline=False,
                       tickfont=dict(family=FONT, size=13.5, color="#222"))
    layout_axes["xaxis" + sfx] = dict(
        domain=[left / W, (left + PW) / W], anchor=ya, range=xr,
        tickvals=xt, ticktext=[fmt(v, xf) for v in xt], **axis_common)
    layout_axes["yaxis" + sfx] = dict(
        domain=[1 - (top + PH) / H, 1 - top / H], anchor=xa, range=yr,
        tickvals=yt, ticktext=[fmt(v, yf) for v in yt], **axis_common)

    shapes.append(dict(type="line", xref=xa + " domain", yref=ya, x0=0.01, x1=0.99,
                       y0=PADJ_CUTOFF, y1=PADJ_CUTOFF,
                       line=dict(color="black", width=1.5, dash="10px,7px")))
    annotations.append(dict(xref="paper", yref="paper", x=(left + PW / 2) / W,
                            y=1 - (top - 14) / H, text=f"<b>{title}</b>", showarrow=False,
                            xanchor="center", yanchor="middle",
                            font=dict(family=FONT, size=17, color="black")))

annotations.append(dict(xref="paper", yref="paper", x=23 / W, y=1 - 810 / H, textangle=-90,
                        xanchor="center", yanchor="middle",
                        text="-log<sub>10</sub>(adjusted P-value)", showarrow=False,
                        font=dict(family="Liberation Sans, Arial, sans-serif", size=22, color="black")))
annotations.append(dict(xref="paper", yref="paper", x=708 / W, y=1 - 1594 / H,
                        xanchor="center", yanchor="middle",
                        text="ADDS versus control average log<sub>2</sub>(fold change)", showarrow=False,
                        font=dict(family="Liberation Sans, Arial, sans-serif", size=22, color="black")))

fig.update_layout(width=W, height=H, margin=dict(l=0, r=0, t=0, b=0),
                  paper_bgcolor="white", plot_bgcolor="white", showlegend=False,
                  annotations=annotations, shapes=shapes, **layout_axes)
fig.write_html("out.html")
